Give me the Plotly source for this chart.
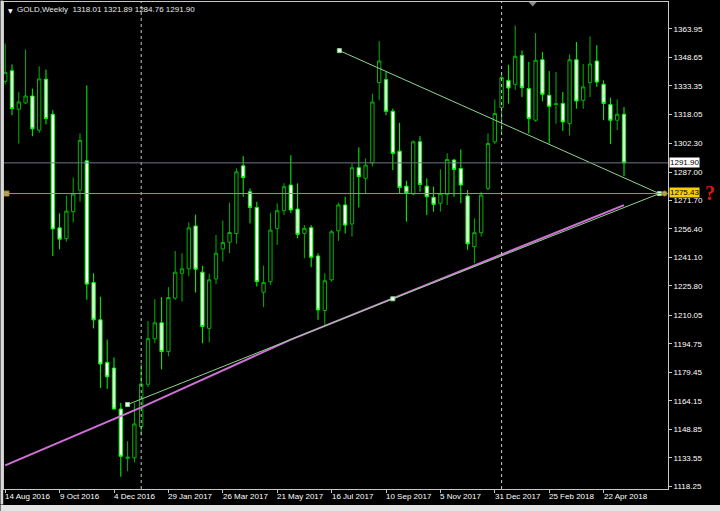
import plotly.graph_objects as go
import pandas as pd

# ---------------- data ----------------
week_start = "2016-08-14"
n_weeks = 92
dates = pd.date_range(week_start, periods=n_weeks, freq="7D")

opens = [1335.7, 1341.4, 1320.7, 1324.1, 1327.8, 1309.5, 1336.8, 1318.0, 1257.0, 1251.2,
         1265.7, 1277.3, 1293.0, 1227.6, 1207.6, 1184.7, 1181.7, 1159.7, 1133.2, 1133.5,
         1150.2, 1173.0, 1197.5, 1206.0, 1190.6, 1219.3, 1232.6, 1235.0, 1258.0, 1233.2,
         1203.0, 1229.6, 1245.7, 1249.3, 1254.0, 1290.3, 1276.4, 1268.0, 1222.4, 1228.1,
         1256.7, 1266.2, 1280.0, 1267.1, 1254.0, 1257.1, 1241.9, 1212.6, 1229.1, 1255.4,
         1269.3, 1259.1, 1289.3, 1283.6, 1291.9, 1335.0, 1336.6, 1319.6, 1298.2, 1279.4,
         1275.2, 1303.2, 1279.4, 1273.4, 1270.2, 1275.0, 1293.4, 1288.9, 1274.1, 1246.9,
         1254.4, 1278.2, 1303.2, 1321.6, 1336.2, 1334.1, 1349.6, 1331.8, 1314.8, 1347.3,
         1328.2, 1323.2, 1323.8, 1313.0, 1347.3, 1325.5, 1335.0, 1346.6, 1334.1, 1323.2,
         1314.8, 1318.01]
highs = [1356.0, 1344.8, 1330.0, 1352.7, 1331.8, 1343.7, 1342.0, 1320.2, 1264.8, 1274.4,
         1284.0, 1307.7, 1333.5, 1232.6, 1220.0, 1197.0, 1187.4, 1163.0, 1142.4, 1163.0,
         1184.0, 1207.0, 1218.7, 1219.8, 1225.2, 1244.6, 1243.4, 1260.0, 1264.1, 1236.6,
         1232.3, 1253.2, 1260.9, 1270.6, 1289.0, 1295.5, 1278.2, 1271.0, 1236.7, 1265.1,
         1270.2, 1281.0, 1296.0, 1280.9, 1258.5, 1258.5, 1243.4, 1232.6, 1255.8, 1270.5,
         1273.7, 1291.6, 1300.2, 1294.3, 1329.1, 1357.3, 1340.7, 1321.0, 1313.4, 1282.3,
         1304.0, 1306.2, 1283.6, 1279.1, 1288.4, 1297.0, 1294.0, 1299.1, 1277.3, 1262.1,
         1276.4, 1307.7, 1326.0, 1340.0, 1344.6, 1365.7, 1352.3, 1346.1, 1361.6, 1351.4,
         1341.2, 1340.7, 1330.0, 1350.2, 1356.8, 1345.0, 1359.8, 1355.1, 1336.2, 1326.9,
         1326.0, 1321.89]
lows = [1334.0, 1317.5, 1302.3, 1323.5, 1306.2, 1308.0, 1312.6, 1241.9, 1245.5, 1249.6,
        1260.0, 1271.0, 1218.4, 1203.0, 1171.0, 1170.5, 1159.3, 1123.3, 1126.3, 1131.1,
        1145.5, 1171.5, 1195.0, 1181.0, 1188.0, 1218.3, 1217.4, 1231.0, 1222.3, 1195.0,
        1195.5, 1226.8, 1238.9, 1243.4, 1248.5, 1273.7, 1259.4, 1225.5, 1214.4, 1226.4,
        1247.8, 1263.9, 1264.9, 1251.4, 1240.7, 1235.9, 1207.6, 1204.9, 1228.1, 1250.0,
        1254.0, 1252.3, 1268.0, 1275.5, 1290.0, 1325.5, 1317.5, 1288.0, 1275.5, 1260.3,
        1274.5, 1276.4, 1263.9, 1265.7, 1265.7, 1269.3, 1273.7, 1270.2, 1245.2, 1238.0,
        1252.3, 1277.3, 1302.0, 1307.7, 1323.7, 1331.0, 1327.3, 1307.7, 1313.9, 1325.0,
        1302.3, 1313.0, 1309.1, 1306.6, 1321.0, 1321.0, 1327.3, 1332.7, 1314.8, 1302.0,
        1309.5, 1284.76]
closes = [1340.5, 1321.1, 1324.6, 1327.8, 1310.2, 1337.0, 1315.7, 1256.4, 1250.9, 1266.0,
          1275.2, 1304.0, 1226.8, 1207.6, 1183.9, 1177.0, 1159.7, 1134.3, 1133.9, 1151.7,
          1173.1, 1197.5, 1206.0, 1190.6, 1219.6, 1233.2, 1235.0, 1257.0, 1234.8, 1204.0,
          1229.1, 1243.4, 1249.1, 1254.5, 1287.1, 1284.0, 1268.0, 1228.1, 1227.6, 1255.8,
          1266.2, 1279.1, 1266.6, 1253.5, 1256.7, 1241.2, 1212.9, 1228.6, 1254.9, 1269.3,
          1258.5, 1289.3, 1284.5, 1290.7, 1324.6, 1346.6, 1319.6, 1297.0, 1278.7, 1275.9,
          1303.2, 1280.3, 1273.7, 1269.6, 1275.5, 1293.7, 1288.4, 1280.0, 1248.4, 1254.4,
          1274.6, 1302.3, 1318.4, 1337.7, 1332.1, 1349.1, 1332.3, 1315.7, 1347.0, 1328.7,
          1322.3, 1323.6, 1313.9, 1347.3, 1325.1, 1332.7, 1345.0, 1335.3, 1323.8, 1314.8,
          1318.0, 1291.90]

price_ticks = [1363.95, 1348.65, 1333.35, 1318.05, 1302.30, 1287.00, 1271.70, 1256.40,
               1241.10, 1225.80, 1210.05, 1194.75, 1179.45, 1164.15, 1148.85, 1133.55, 1118.25]
date_ticks = ["2016-08-14", "2016-10-09", "2016-12-04", "2017-01-29", "2017-03-26",
              "2017-05-21", "2017-07-16", "2017-09-10", "2017-11-05", "2017-12-31",
              "2018-02-25", "2018-04-22"]
date_labels = ["14 Aug 2016", "9 Oct 2016", "4 Dec 2016", "29 Jan 2017", "26 Mar 2017",
               "21 May 2017", "16 Jul 2017", "10 Sep 2017", "5 Nov 2017", "31 Dec 2017",
               "25 Feb 2018", "22 Apr 2018"]
separators = ["2017-01-01", "2018-01-07"]

bid_price = 1291.90
level_price = 1275.43
level_anchor_x = ["2016-08-15 08:00", "2018-06-23 16:00"]

res_x = ["2017-07-24", "2018-06-18 10:00"]
res_y = [1352.2, 1275.4]
sup_x = ["2016-12-18", "2017-09-17", "2018-06-18 10:00"]
sup_y = [1162.1, 1218.9, 1275.4]
ma_x = ["2016-08-14", "2017-01-01", "2017-06-04", "2017-09-17", "2017-12-17", "2018-05-13"]
ma_y = [1129.4, 1160.6, 1197.0, 1219.2, 1238.2, 1269.2]

header = "GOLD,Weekly  1318.01 1321.89 1284.76 1291.90"

# ---------------- figure ----------------
FONT = "Liberation Sans, Arial, sans-serif"
fig = go.Figure()

fig.add_trace(go.Candlestick(
    x=dates, open=opens, high=highs, low=lows, close=closes,
    increasing=dict(line=dict(color="#00b400", width=1), fillcolor="#000000"),
    decreasing=dict(line=dict(color="#00ff00", width=1), fillcolor="#ffffff"),
    whiskerwidth=0, showlegend=False, hoverinfo="skip",
))

fig.add_trace(go.Scatter(x=ma_x, y=ma_y, mode="lines",
                         line=dict(color="#d070d8", width=2), showlegend=False, hoverinfo="skip"))
fig.add_trace(go.Scatter(x=sup_x, y=sup_y, mode="lines",
                         line=dict(color="#8fd48f", width=1), showlegend=False, hoverinfo="skip"))
fig.add_trace(go.Scatter(x=res_x, y=res_y, mode="lines",
                         line=dict(color="#8fd48f", width=1), showlegend=False, hoverinfo="skip"))
# anchor squares of the trend lines
fig.add_trace(go.Scatter(x=[res_x[0], sup_x[0], sup_x[1], res_x[1]],
                         y=[res_y[0], sup_y[0], sup_y[1], res_y[1]], mode="markers",
                         marker=dict(symbol="square", size=4, color="#e8ffe8",
                                     line=dict(color="#90d090", width=1)),
                         showlegend=False, hoverinfo="skip", cliponaxis=False))
# anchors of the horizontal level
fig.add_trace(go.Scatter(x=level_anchor_x, y=[level_price, level_price], mode="markers",
                         marker=dict(symbol=["square", "circle"], size=[5, 5], color="#fff6a0",
                                     line=dict(color="#e0c000", width=1)),
                         showlegend=False, hoverinfo="skip", cliponaxis=False))

shapes = []
for d in separators:
    shapes.append(dict(type="line", xref="x", yref="paper", x0=d, x1=d, y0=0, y1=1,
                       line=dict(color="#c8c8c8", width=1, dash="dot"), layer="above"))
shapes.append(dict(type="line", xref="paper", yref="y", x0=0, x1=1, y0=bid_price, y1=bid_price,
                   line=dict(color="#6e7888", width=1), layer="above"))
shapes.append(dict(type="line", xref="paper", yref="y", x0=0, x1=1, y0=level_price, y1=level_price,
                   line=dict(color="#b49c00", width=1), layer="above"))
# window chrome
shapes.append(dict(type="rect", xref="paper", yref="paper", x0=-0.0053, x1=-0.0012, y0=-0.032, y1=1.003,
                   fillcolor="#d8d8d8", line=dict(width=0), layer="above"))
shapes.append(dict(type="rect", xref="paper", yref="paper", x0=-0.0053, x1=1.08, y0=-0.045, y1=-0.033,
                   fillcolor="#e4e4e4", line=dict(width=0), layer="above"))
# chart shift marker
shapes.append(dict(type="path", xref="paper", yref="paper",
                   path="M 0.7902 1.0 L 0.8023 1.0 L 0.7962 0.9908 Z",
                   fillcolor="#8a8a8a", line=dict(width=0), layer="above"))

annotations = []
for d, t in zip(date_ticks, date_labels):
    annotations.append(dict(x=d, y=0, xref="x", yref="paper", text=t, showarrow=False,
                            xanchor="left", yanchor="top", xshift=-2, yshift=-1,
                            font=dict(family=FONT, size=8, color="#ffffff")))
annotations.append(dict(x=0, y=1, xref="paper", yref="paper", text="\u25BC", showarrow=False,
                        xanchor="left", yanchor="top", xshift=2, yshift=-3,
                        font=dict(family="DejaVu Sans", size=6, color="#ffffff")))
annotations.append(dict(x=0, y=1, xref="paper", yref="paper", text=header, showarrow=False,
                        xanchor="left", yanchor="top", xshift=11, yshift=-1,
                        font=dict(family=FONT, size=8, color="#e8e8e8")))
annotations.append(dict(x=1, y=bid_price, xref="paper", yref="y", text="%.2f" % bid_price,
                        showarrow=False, xanchor="left", yanchor="middle", xshift=1,
                        bgcolor="#ffffff", borderpad=0, height=9,
                        font=dict(family=FONT, size=8, color="#000000")))
annotations.append(dict(x=1, y=level_price, xref="paper", yref="y", text="%.2f" % level_price,
                        showarrow=False, xanchor="left", yanchor="middle", xshift=1, yshift=1,
                        bgcolor="#f5d000", borderpad=0, height=9,
                        font=dict(family=FONT, size=8, color="#000000")))
annotations.append(dict(x=1, y=level_price, xref="paper", yref="y", text="<b>?</b>",
                        showarrow=False, xanchor="left", yanchor="middle", xshift=35, yshift=1,
                        font=dict(family="Liberation Serif, serif", size=20, color="#e01818")))

fig.update_layout(
    width=720, height=511,
    margin=dict(l=4, r=52, t=2, b=22),
    paper_bgcolor="#000000", plot_bgcolor="#000000",
    font=dict(family=FONT, size=8, color="#ffffff"),
    showlegend=False,
    shapes=shapes, annotations=annotations,
    xaxis=dict(type="date", range=["2016-08-12 18:30", "2018-06-27 07:00"],
               rangeslider=dict(visible=False), showgrid=False, zeroline=False,
               showline=True, linecolor="#c8c8c8", linewidth=1, mirror=True,
               ticks="outside", ticklen=3, tickcolor="#c8c8c8",
               tickvals=date_ticks, showticklabels=False, fixedrange=True),
    yaxis=dict(side="right", range=[1116.75, 1378.3], showgrid=False, zeroline=False,
               showline=True, linecolor="#c8c8c8", linewidth=1, mirror=True,
               ticks="outside", ticklen=3, tickcolor="#c8c8c8",
               tickvals=price_ticks, ticktext=["%.2f" % v for v in price_ticks],
               tickfont=dict(family=FONT, size=8, color="#ffffff"), fixedrange=True),
)

fig.write_html("out.html", config={"displayModeBar": False},
               post_script="document.body.style.margin='0';document.body.style.background='#000';")
